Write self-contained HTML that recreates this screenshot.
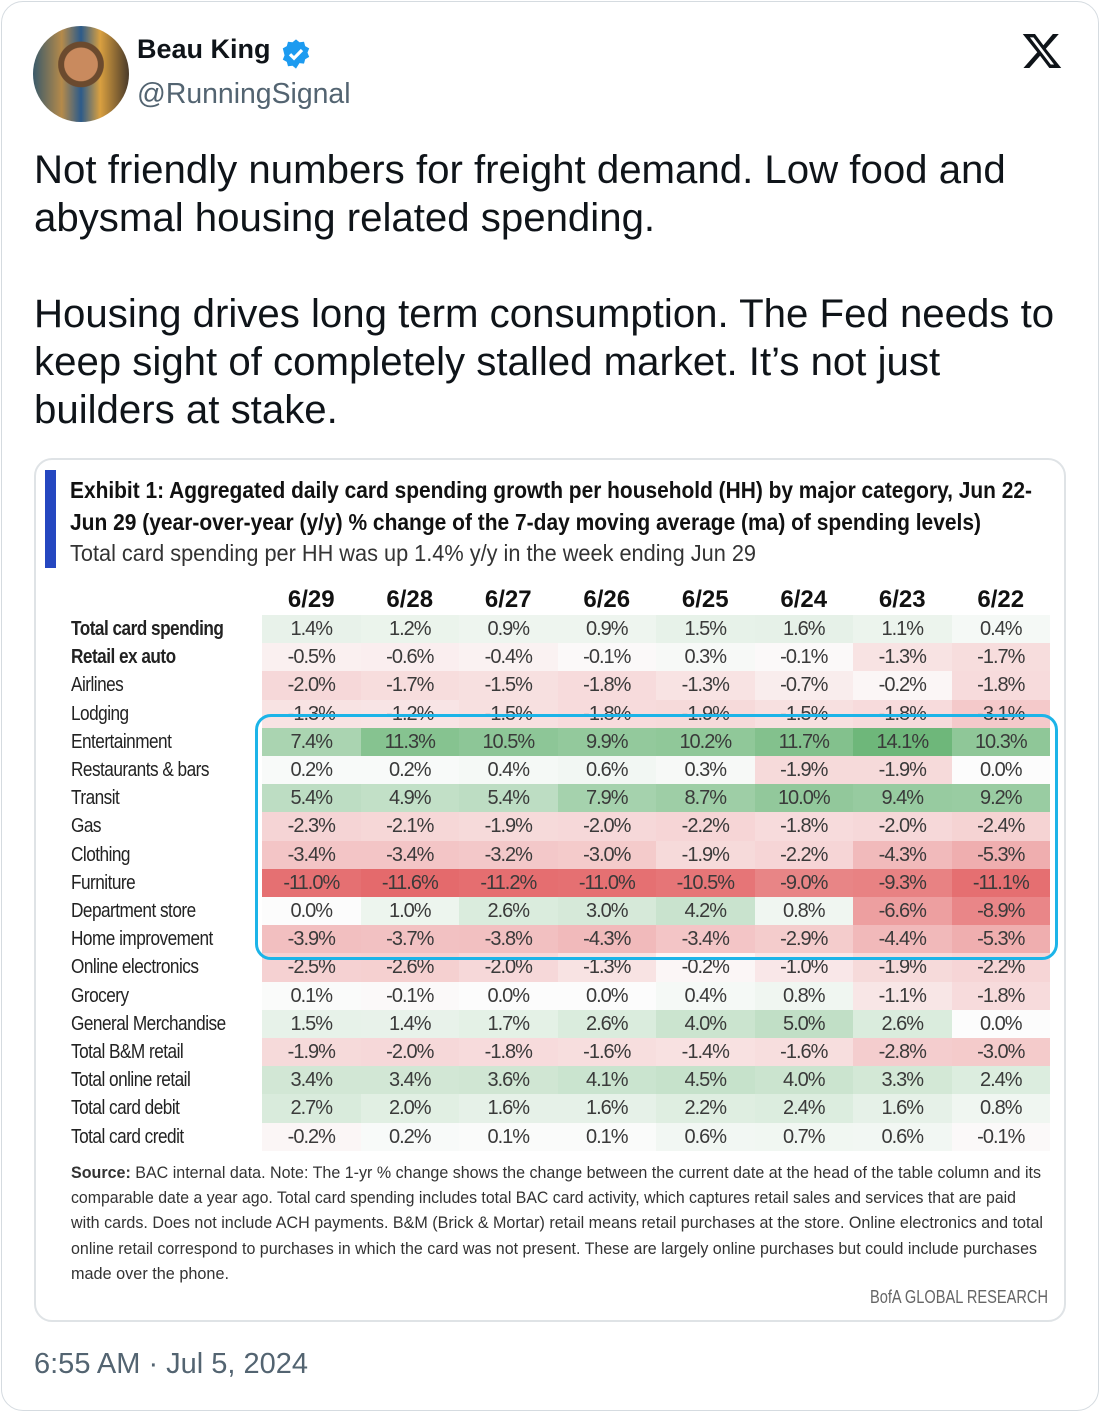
<!DOCTYPE html>
<html><head><meta charset="utf-8"><style>
*{margin:0;padding:0;box-sizing:border-box}
body{width:1100px;height:1412px;background:#fff;font-family:"Liberation Sans",sans-serif;position:relative;overflow:hidden;color:#0f1419}
.abs{position:absolute;white-space:nowrap}
.fit{transform-origin:0 0;display:inline-block}
.outer{position:absolute;left:1px;top:1px;width:1098px;height:1410px;border:1px solid #d5dbe0;border-radius:22px}
.card{position:absolute;left:34px;top:458px;width:1032px;height:864px;border:2px solid #dfe3e6;border-radius:18px}
.cell{position:absolute;height:28.2px;line-height:28.2px;text-align:center;font-size:20px;color:#3a3a3a;letter-spacing:-1px}
.lab{position:absolute;left:71px;font-size:20px;color:#222;height:28.2px;line-height:28.2px}
.hdr{position:absolute;top:586px;font-size:24px;font-weight:bold;text-align:center;width:98.5px;color:#111}
</style></head><body>
<div class="outer"></div>
<div class="abs" style="left:33px;top:26px;width:96px;height:96px;border-radius:50%;background:radial-gradient(circle at 50% 40%,#c98a5e 0 22%,#6b4a2e 23% 30%,transparent 31%),linear-gradient(90deg,#3a5a6a,#b58a4a 30%,#2c5b8a 50%,#d9a040 70%,#4a3a2a);"></div>
<div class="abs" style="left:137px;top:34px;font-size:27px;font-weight:bold">Beau King</div>
<svg class="abs" style="left:280px;top:38px" width="32" height="32" viewBox="0 0 24 24"><path fill="#1d9bf0" d="M12 1l2.6 2.2 3.4-.4.9 3.3 3 1.7-1.3 3.2 1.3 3.2-3 1.7-.9 3.3-3.4-.4L12 23l-2.6-2.2-3.4.4-.9-3.3-3-1.7 1.3-3.2L2.1 7.8l3-1.7.9-3.3 3.4.4z"/><path d="M7.5 12.2l3 3 6-6.2" stroke="#fff" stroke-width="2.4" fill="none"/></svg>
<div class="abs" style="left:137px;top:78px;font-size:28.4px;color:#536471">@RunningSignal</div>
<svg class="abs" style="left:1020px;top:30px" width="44" height="42" viewBox="0 0 24 24"><path fill="#0f1419" d="M18.2 2.3h3.4l-7.4 8.4L23 21.7h-6.8l-5.3-7-6.1 7H1.4l7.9-9L1 2.3h7l4.8 6.4zm-1.2 17.4h1.9L7.1 4.2H5.1z"/></svg>
<div class="abs" style="left:34px;top:146px;font-size:40.2px;line-height:48px">Not friendly numbers for freight demand. Low food and<br>abysmal housing related spending.<br><br>Housing drives long term consumption. The Fed needs to<br>keep sight of completely stalled market. It’s not just<br>builders at stake.</div>
<div class="card"></div>
<div class="abs" style="left:45px;top:470px;width:11px;height:98px;background:#2547c0"></div>
<div class="abs" style="left:70px;top:477px;font-size:23px;font-weight:bold;color:#111"><span class="fit" style="--w:962">Exhibit 1: Aggregated daily card spending growth per household (HH) by major category, Jun 22-</span></div>
<div class="abs" style="left:70px;top:509px;font-size:23px;font-weight:bold;color:#111"><span class="fit" style="--w:911">Jun 29 (year-over-year (y/y) % change of the 7-day moving average (ma) of spending levels)</span></div>
<div class="abs" style="left:70px;top:540px;font-size:23px;color:#333"><span class="fit" style="--w:686">Total card spending per HH was up 1.4% y/y in the week ending Jun 29</span></div>
<div id="tbl"></div>
<div class="abs" style="left:255px;top:714px;width:803px;height:246px;border:3px solid #1cb4e8;border-radius:16px"></div>
<div class="abs" style="left:71px;top:1160px;font-size:17px;line-height:25.2px;color:#333" id="src"></div>
<div class="abs" style="left:870px;top:1287px;font-size:18px;color:#666"><span class="fit" style="--w:178">BofA GLOBAL RESEARCH</span></div>
<div class="abs" style="left:34px;top:1348px;font-size:29px;color:#536471">6:55 AM · Jul 5, 2024</div>
<script>
var labels=["Total card spending","Retail ex auto","Airlines","Lodging","Entertainment","Restaurants & bars","Transit","Gas","Clothing","Furniture","Department store","Home improvement","Online electronics","Grocery","General Merchandise","Total B&M retail","Total online retail","Total card debit","Total card credit"];
var d=[[1.4,1.2,.9,.9,1.5,1.6,1.1,.4],[-.5,-.6,-.4,-.1,.3,-.1,-1.3,-1.7],[-2,-1.7,-1.5,-1.8,-1.3,-.7,-.2,-1.8],[-1.3,-1.2,-1.5,-1.8,-1.9,-1.5,-1.8,-3.1],[7.4,11.3,10.5,9.9,10.2,11.7,14.1,10.3],[.2,.2,.4,.6,.3,-1.9,-1.9,0],[5.4,4.9,5.4,7.9,8.7,10,9.4,9.2],[-2.3,-2.1,-1.9,-2,-2.2,-1.8,-2,-2.4],[-3.4,-3.4,-3.2,-3,-1.9,-2.2,-4.3,-5.3],[-11,-11.6,-11.2,-11,-10.5,-9,-9.3,-11.1],[0,1,2.6,3,4.2,.8,-6.6,-8.9],[-3.9,-3.7,-3.8,-4.3,-3.4,-2.9,-4.4,-5.3],[-2.5,-2.6,-2,-1.3,-.2,-1,-1.9,-2.2],[.1,-.1,0,0,.4,.8,-1.1,-1.8],[1.5,1.4,1.7,2.6,4,5,2.6,0],[-1.9,-2,-1.8,-1.6,-1.4,-1.6,-2.8,-3],[3.4,3.4,3.6,4.1,4.5,4,3.3,2.4],[2.7,2,1.6,1.6,2.2,2.4,1.6,.8],[-.2,.2,.1,.1,.6,.7,.6,-.1]];
var dates=["6/29","6/28","6/27","6/26","6/25","6/24","6/23","6/22"];
function col(v){var w=[252,252,252],t,c;if(v>=0){t=Math.min(1,Math.pow(v/14.1,0.85));c=[110,183,122];}else{t=Math.min(1,Math.pow(-v/11.6,0.8));c=[228,106,108];}
return "rgb("+w.map(function(a,i){return Math.round(a+(c[i]-a)*t)}).join(",")+")";}
var h="";
dates.forEach(function(s,i){h+='<div class="hdr" style="left:'+(262+i*98.5)+'px">'+s+'</div>';});
labels.forEach(function(l,r){var y=615+r*28.2;var b=r<2?"font-weight:bold;":"";
h+='<div class="lab" style="top:'+y+'px;'+b+'"><span class="fit" style="letter-spacing:-0.6px">'+l.replace("&","&amp;")+'</span></div>';
d[r].forEach(function(v,i){h+='<div class="cell" style="left:'+(262+i*98.5)+'px;top:'+y+'px;width:98.6px;background:'+col(v)+'">'+v.toFixed(1)+'%</div>';});});
document.getElementById("tbl").innerHTML=h;
document.getElementById("src").innerHTML=['<b>Source:</b> BAC internal data. Note: The 1-yr % change shows the change between the current date at the head of the table column and its','comparable date a year ago. Total card spending includes total BAC card activity, which captures retail sales and services that are paid','with cards. Does not include ACH payments. B&amp;M (Brick &amp; Mortar) retail means retail purchases at the store. Online electronics and total','online retail correspond to purchases in which the card was not present. These are largely online purchases but could include purchases','made over the phone.'].map(function(s,i){var w=[970,945,972,966,158][i];return '<span class="fit" style="--w:'+w+'">'+s+'</span>';}).join('<br>');
document.querySelectorAll('.fit').forEach(function(e){var w=parseFloat(getComputedStyle(e).getPropertyValue('--w'));var cw=e.getBoundingClientRect().width;
if(!w){if(e.parentNode.className=='lab'){w=cw*0.86}else return;}
e.style.transform='scaleX('+(w/cw)+')';});
</script>
</body></html>
